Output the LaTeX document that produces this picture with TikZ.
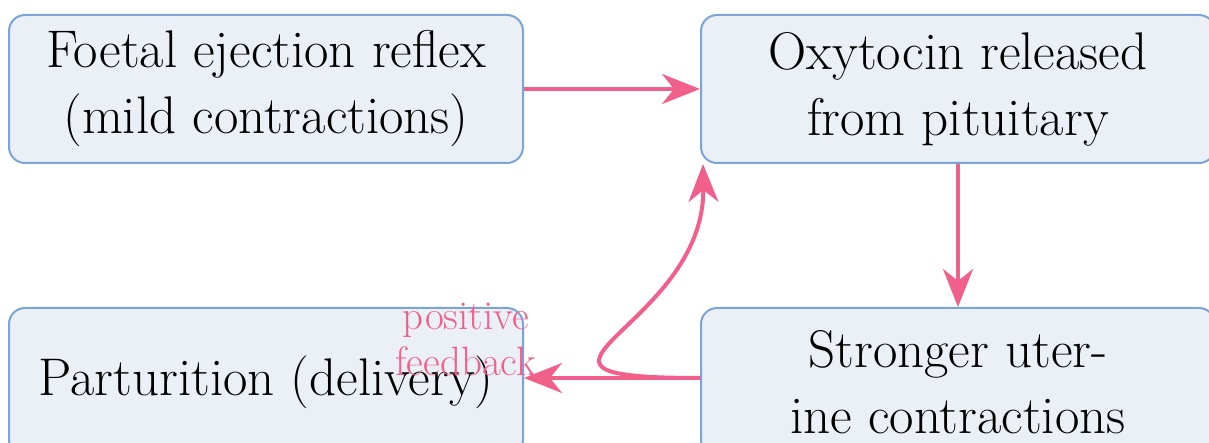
\documentclass[tikz,border=0pt]{standalone}
\usepackage{fontspec}
\usetikzlibrary{arrows.meta}
\definecolor{boxfill}{HTML}{EBF0F7}
\definecolor{boxline}{HTML}{7BA4D8}
\definecolor{pinkc}{HTML}{F0608A}
\begin{document}
\begin{tikzpicture}[x=1pt,y=-1pt,
  box/.style={draw=boxline, fill=boxfill, line width=2pt, rounded corners=16pt,
    minimum width=514pt, minimum height=148pt, align=center, inner sep=0pt,
    font=\fontsize{53}{66}\selectfont},
  conn/.style={draw=pinkc, line width=4pt,
    -{Stealth[length=38pt,width=30pt,inset=12pt]}},
  lbl/.style={text=pinkc, align=center, inner sep=0pt,
    font=\fontsize{41}{46}\selectfont}]
\useasboundingbox (0,0) rectangle (1209,443);
\clip (0,0) rectangle (1209,443);
\node[box] (b1) at (266,89) {Foetal ejection reflex\\(mild contractions)};
\node[box] (b2) at (958,89) {Oxytocin released\\from pituitary};
\node[box] (b3) at (958,382) {Stronger uter-\\ine contractions};
\node[box] (b4) at (266,382) {Parturition (delivery)};
\coordinate (s3) at ([yshift=4pt]b3.west);
\coordinate (e4) at ([yshift=4pt]b4.east);
\coordinate (e2) at ([xshift=3pt]b2.south west);
\draw[conn] (b1.east) -- (b2.west);
\draw[conn] (b2.south) -- (b3.north);
\draw[conn] (s3) -- (e4);
\draw[conn] (s3) .. controls (470,378) and (705,330) .. (e2);
\node[lbl] (fb) at (466,339) {positive\\feedback};
\end{tikzpicture}
\end{document}
